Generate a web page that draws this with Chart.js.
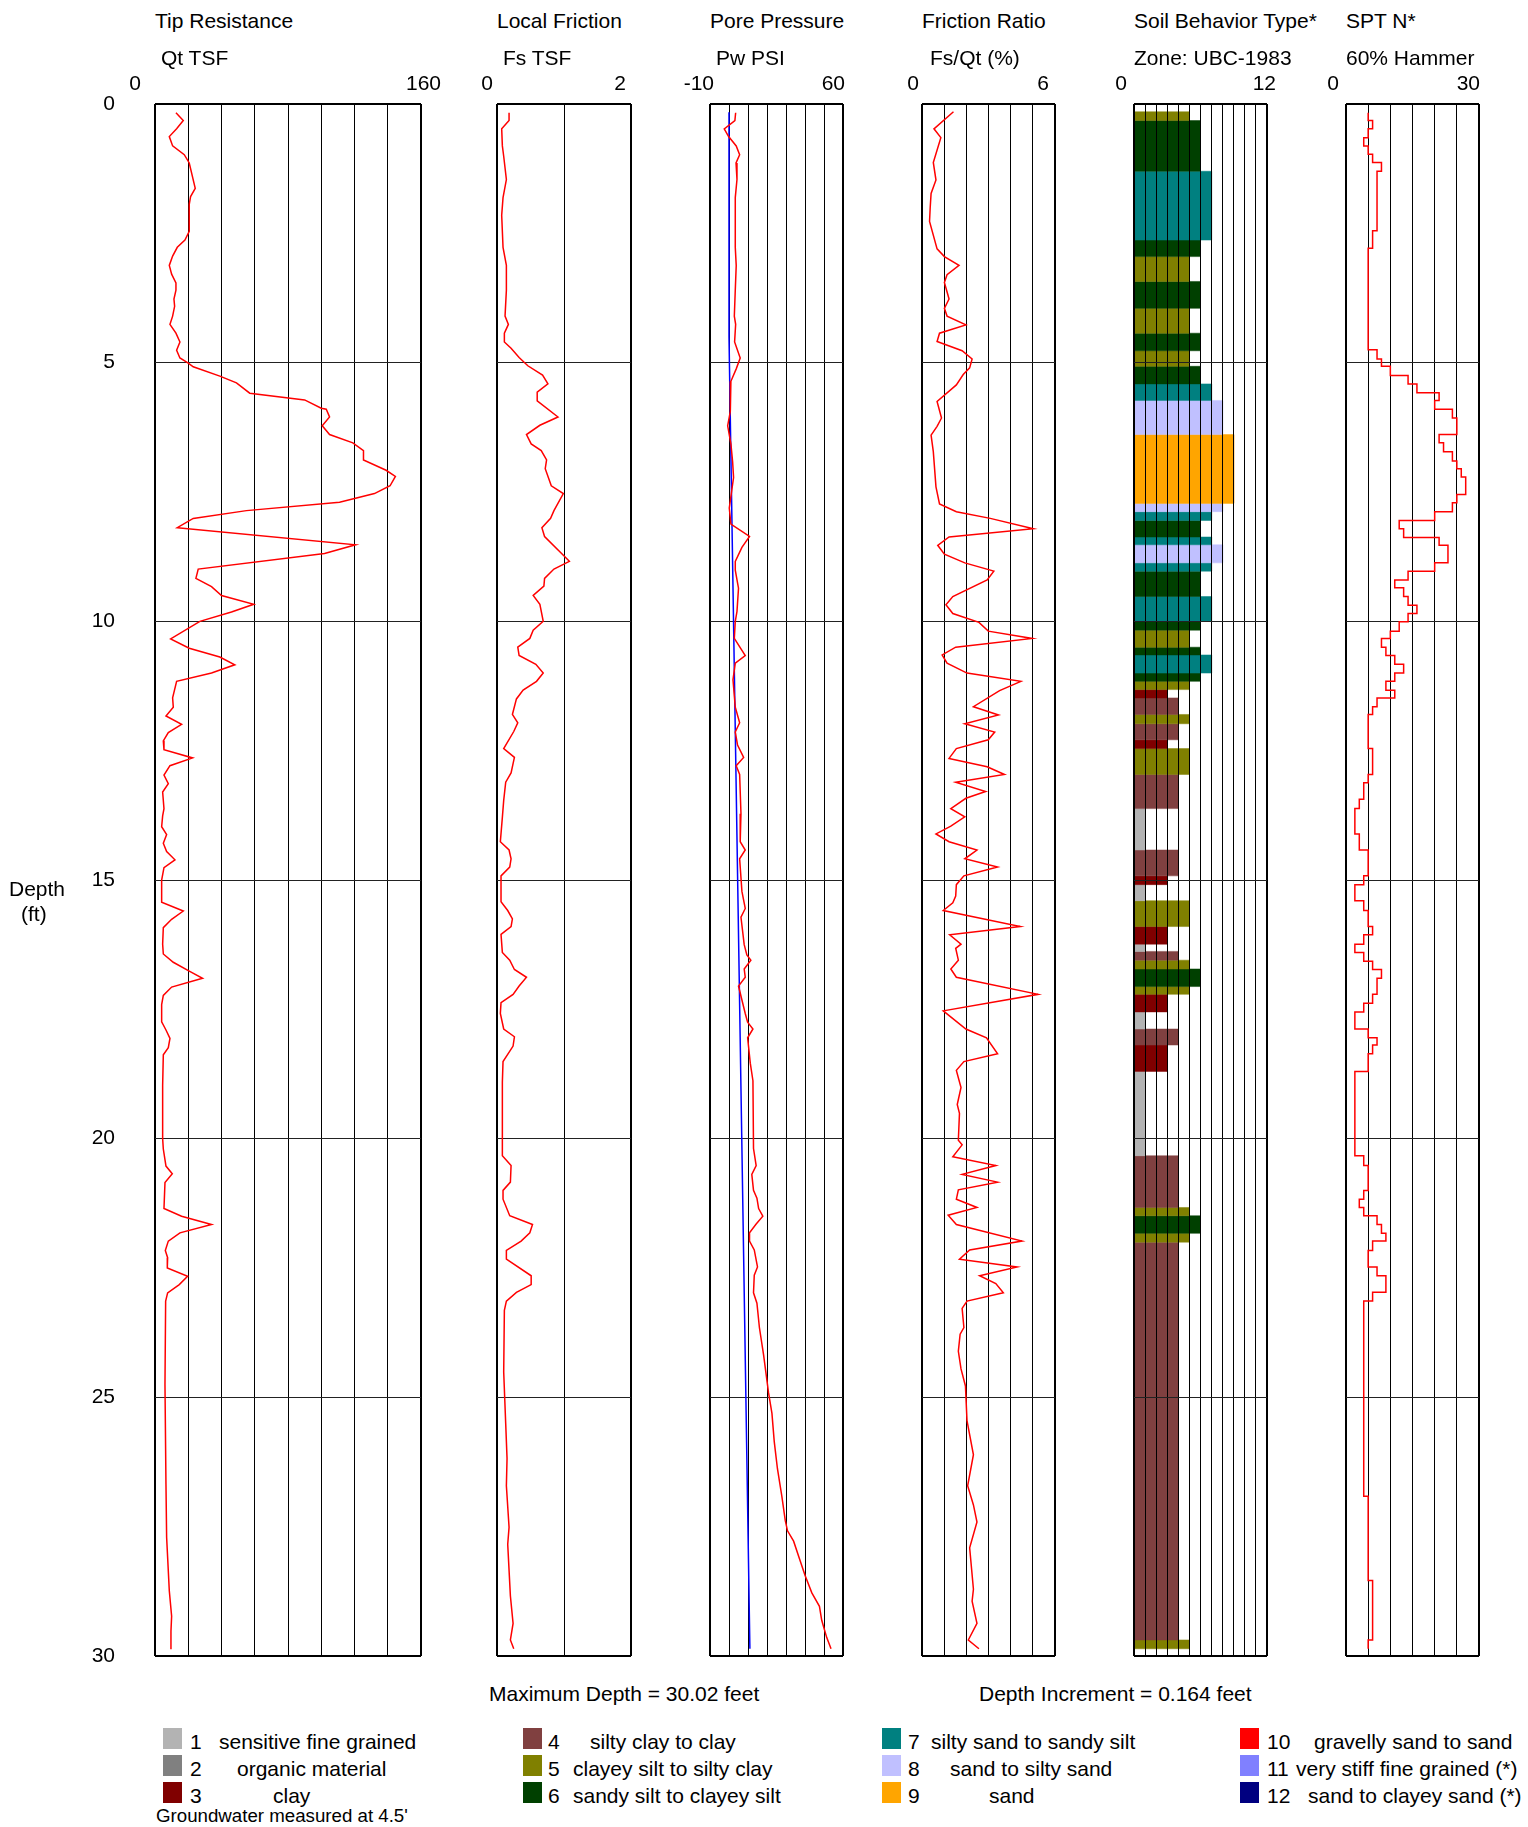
<!DOCTYPE html>
<html>
<head>
<meta charset="utf-8">
<script src="https://cdn.jsdelivr.net/npm/chart.js@4.4.1/dist/chart.umd.min.js"></script>
<style>
body { margin: 0; background: #fff; }
#page { position: relative; width: 1528px; height: 1827px; background: #fff; overflow: hidden;
        font-family: "Liberation Sans", Arial, sans-serif; color: #000; }
#page canvas { position: absolute; }
.txt { position: absolute; white-space: nowrap; z-index: 2; }
.swatch { position: absolute; width: 19px; height: 21px; }
</style>
</head>
<body>
<div id="page"></div>
<script>
// ---- panel headers / axis ranges ----
const panelTitles = ['Tip Resistance', 'Local Friction', 'Pore Pressure', 'Friction Ratio', 'Soil Behavior Type*', 'SPT N*'];
const panelUnits  = ['Qt TSF', 'Fs TSF', 'Pw PSI', 'Fs/Qt (%)', 'Zone: UBC-1983', '60% Hammer'];
const axisMin  = [0, 0, -10, 0, 0, 0];
const axisMax  = [160, 2, 60, 6, 12, 30];
const axisStep = [20, 1, 10, 1, 1, 5];
const depthMax = 30;
const depthStep = 5;

// ---- Tip resistance Qt (TSF) ----
const qtDepth = [0.17,0.32,0.48,0.63,0.81,0.98,1.14,1.63,1.79,1.94,2.46,2.63,2.77,2.94,3.12,3.29,3.46,3.6,3.77,3.91,
  4.1,4.26,4.43,4.6,4.76,4.91,5.01,5.08,5.26,5.39,5.59,5.72,5.88,5.9,6.05,6.22,6.39,6.55,6.7,6.88,
  7.08,7.2,7.38,7.53,7.7,7.86,8.01,8.19,8.52,8.69,8.99,9.17,9.33,9.5,9.67,9.82,10.0,10.34,10.52,10.69,
  10.84,11.0,11.16,11.48,11.66,11.83,11.99,12.15,12.31,12.48,12.64,12.79,12.97,13.14,13.3,13.62,13.76,13.97,14.12,14.29,
  14.45,14.61,14.76,15.0,15.43,15.6,15.76,15.92,16.24,16.43,16.59,16.76,16.9,17.07,17.23,17.41,17.74,17.9,18.06,18.24,
  18.38,18.97,20.0,20.2,20.53,20.68,20.85,21.35,21.5,21.66,21.82,21.98,22.16,22.3,22.5,22.66,22.82,22.98,23.14,24.75,
  26.68,27.71,28.74,29.23,29.52,29.87];
const qtValue = [12.6,17,13,8.6,10.6,17.6,20.6,24.2,21.4,20.6,20.6,18,13.4,10.6,8.6,10,12.6,12.6,11.4,11.8,
  10.6,9,12.6,15,13,15,20,23,39,49,57,90,100,103,105,100.6,105,119,125.4,125.4,
  139,144.6,141.4,132,111,55,23,13.4,120.6,102,26,24.6,34,40,59.4,46,27,9.4,20.6,39,
  48,34,13,10.6,11,6.6,16,8,5,5.4,22.6,9,5.4,8,4.6,5.4,4.6,4,7,5,
  7,12,5.4,4,4,17,10,5,4.6,5,11,20.6,28.6,10,5,4,4,6.6,9,8,
  5,4.6,4.6,5,6.6,10.4,6,5.4,16,34,15,8,6.2,7.6,7.4,19.6,14.6,7.6,6.4,6,
  6.6,7,8.6,10,9.6,9.6];

// ---- Local friction Fs (TSF) ----
const fsDepth = [0.17,0.32,0.48,0.81,1.01,1.46,1.81,2.15,2.77,3.12,3.6,4.1,4.26,4.43,4.6,4.72,4.9,5.06,5.24,5.41,
  5.57,5.74,6.05,6.21,6.39,6.57,6.7,6.88,7.05,7.38,7.53,7.86,8.01,8.19,8.36,8.84,8.99,9.17,9.32,9.5,
  9.67,10.0,10.17,10.33,10.5,10.66,10.83,11.0,11.16,11.33,11.5,11.8,11.96,12.13,12.46,12.63,12.93,13.11,13.46,13.79,
  14.26,14.42,14.59,14.75,14.92,15.42,15.59,15.75,15.9,16.05,16.4,16.55,16.73,16.88,17.05,17.21,17.37,17.58,17.88,18.03,
  18.21,18.51,18.91,20.33,20.52,20.84,21.0,21.17,21.49,21.66,21.82,21.98,22.16,22.33,22.65,22.82,22.97,23.14,23.32,24.51,
  25.51,26.18,26.71,27.51,27.84,28.84,29.37,29.69,29.86];
const fsValue = [0.18,0.18,0.07,0.08,0.1,0.14,0.09,0.07,0.09,0.14,0.14,0.12,0.17,0.11,0.11,0.21,0.33,0.46,0.68,0.76,
  0.6,0.6,0.91,0.64,0.44,0.51,0.66,0.74,0.72,0.81,0.99,0.85,0.8,0.67,0.71,1.08,0.85,0.71,0.7,0.54,
  0.64,0.69,0.54,0.49,0.31,0.33,0.58,0.69,0.59,0.39,0.29,0.23,0.31,0.25,0.1,0.26,0.21,0.13,0.1,0.08,
  0.05,0.18,0.21,0.19,0.06,0.06,0.16,0.23,0.21,0.06,0.08,0.19,0.26,0.44,0.33,0.24,0.06,0.05,0.1,0.26,
  0.24,0.09,0.08,0.08,0.21,0.2,0.09,0.09,0.19,0.53,0.49,0.36,0.14,0.14,0.51,0.51,0.29,0.14,0.11,0.1,
  0.13,0.15,0.14,0.18,0.16,0.2,0.24,0.2,0.25];

// ---- Pore pressure Pw (PSI) ----
const pwDepth = [0.17,0.32,0.48,0.63,0.81,0.98,1.14,1.46,1.81,2.77,3.12,3.6,4.1,4.26,4.6,4.91,5.12,5.36,5.94,6.22,
  6.57,6.91,7.22,7.81,8.12,8.36,8.57,8.84,9.01,9.36,9.81,10.0,10.33,10.66,10.81,11.13,11.66,11.96,12.14,12.39,
  12.63,12.79,12.96,13.72,14.26,14.42,14.59,15.22,15.55,15.72,16.25,16.45,16.55,16.72,16.88,17.05,17.58,17.75,17.88,18.05,
  18.54,18.88,20.19,20.52,20.69,21.0,21.15,21.35,21.5,21.65,21.82,21.98,22.15,22.48,22.64,22.98,23.18,23.65,24.18,24.91,
  25.31,25.85,26.38,26.91,27.38,27.58,27.78,28.11,28.44,28.78,29.04,29.31,29.64,29.86];
const pwValue = [3.5,3.1,-2.5,-0.2,3.8,5.6,3.7,4.2,3.3,3.3,3.8,3.3,2.8,3.5,2.95,5.9,3.8,1,0.7,-0.7,
  1,1.9,2.4,0.15,1,10.8,6.8,3.3,3.3,5,4.2,3.3,2.8,8.55,3.3,2.1,3.3,5.6,3.3,4.5,
  7.7,3.8,5.6,6.3,5.9,8.55,5.6,6.8,8.55,6.3,8,9.4,11.5,8,8.55,5,8.55,9.8,12.6,9.8,
  11.2,12.6,12.9,14.3,12,12.9,14.7,15.6,17.8,14.3,10.8,10.8,13.3,15,13.3,12.9,14.7,16,18.2,20.8,
  22.6,23.8,25.5,27.8,29.6,30.8,34,37,40,43.6,47.6,48.8,51.4,53.7];
// hydrostatic line (groundwater at 4.5 ft)
const hydroDepth = [0.16, 4.5, 29.86];
const hydroValue = [0, 0, 11.0];

// ---- Friction ratio Rf (%) ----
const rfDepth = [0.15,0.48,0.65,1.13,1.47,1.73,2.0,2.27,2.8,2.95,3.12,3.3,3.45,3.77,3.95,4.1,4.27,4.43,4.59,4.77,
  4.93,5.1,5.23,5.43,5.75,6.07,6.23,6.4,6.72,7.4,7.73,7.88,8.01,8.21,8.37,8.53,8.7,8.87,9.03,9.2,
  9.52,9.68,9.85,10.02,10.19,10.33,10.5,10.65,10.81,11.0,11.16,11.34,11.65,11.81,11.98,12.14,12.29,12.46,12.65,12.81,
  12.96,13.11,13.29,13.42,13.62,13.78,13.96,14.11,14.26,14.42,14.59,14.75,14.92,15.09,15.31,15.44,15.59,15.9,16.06,16.24,
  16.32,16.55,16.72,16.88,17.21,17.53,17.88,18.05,18.36,18.51,18.68,19.01,19.34,19.51,20.03,20.12,20.35,20.52,20.69,20.84,
  20.99,21.17,21.33,21.48,21.66,21.98,22.15,22.33,22.48,22.65,22.8,22.98,23.14,23.28,23.65,23.78,24.11,24.45,24.78,25.45,
  26.11,26.71,27.08,27.41,27.91,28.71,28.94,29.37,29.69,29.86];
const rfValue = [1.42,0.54,0.85,0.51,0.63,0.41,0.37,0.34,0.68,1.01,1.67,1.13,1.01,1.22,1.01,1.13,1.98,0.79,0.68,1.81,
  2.26,2.15,1.86,1.55,0.68,0.88,0.68,0.41,0.51,0.63,0.79,1.55,3.08,5.02,1.22,0.71,1.01,1.93,3.24,2.94,
  1.39,1.08,1.39,2.57,2.99,4.97,1.52,0.91,1.13,2.03,4.46,3.5,2.32,3.45,1.93,3.28,2.99,1.55,1.22,2.94,
  3.72,1.52,2.87,1.98,1.3,1.93,1.3,0.63,1.22,2.48,1.93,3.41,1.89,1.55,1.52,1.39,0.96,4.43,1.25,1.76,
  1.52,1.64,1.3,1.55,5.24,0.96,1.98,2.91,3.41,1.89,1.55,1.76,1.59,1.69,1.64,1.81,1.39,3.33,1.81,3.41,
  1.64,1.55,2.48,1.18,1.55,4.51,2.15,1.69,4.29,2.6,3.33,3.67,2.03,1.81,1.89,1.72,1.64,1.76,1.96,2.03,
  2.32,2.06,2.32,2.48,2.15,2.32,2.26,2.48,2.09,2.57];

// ---- Soil behaviour type layers (top of layer, zone); last layer ends at zoneEnd ----
const zoneTop = [0.15,0.32,1.3,2.63,2.95,3.43,3.95,4.43,4.77,5.07,5.41,5.73,6.39,7.72,7.88,8.05,8.37,8.52,8.87,9.03,
  9.52,10.0,10.17,10.5,10.65,11.0,11.16,11.32,11.48,11.8,11.98,12.29,12.46,12.96,13.62,14.42,14.92,15.09,15.4,15.9,
  16.24,16.38,16.55,16.72,17.06,17.21,17.55,17.88,18.19,18.7,20.33,21.33,21.49,21.83,22.0,29.69];
const zoneValue = [5,6,7,6,5,6,5,6,5,6,7,8,9,8,7,6,7,8,7,6,
  7,6,5,6,7,6,5,3,4,5,4,3,5,4,1,4,3,1,5,3,
  1,4,5,6,5,3,1,4,3,1,4,5,6,5,4,5];
const zoneEnd = 29.86;

// ---- SPT N* (stepped; value holds from each top to the next) ----
const sptTop = [0.17,0.32,0.48,0.65,0.81,0.97,1.13,1.3,2.45,2.79,4.75,4.93,5.07,5.25,5.41,5.58,5.73,5.9,6.07,6.39,
  6.55,6.72,6.9,7.05,7.21,7.55,7.71,7.88,8.05,8.21,8.38,8.53,8.87,9.03,9.2,9.35,9.52,9.69,9.85,10.01,
  10.19,10.33,10.5,10.66,10.83,11.0,11.16,11.33,11.48,11.65,11.8,12.46,12.96,13.12,13.44,13.62,14.11,14.42,14.92,15.09,
  15.4,15.59,15.9,16.06,16.24,16.4,16.57,16.73,16.9,17.21,17.38,17.55,17.88,18.05,18.19,18.36,18.7,20.33,20.52,21.0,
  21.17,21.33,21.49,21.66,21.83,21.98,22.16,22.48,22.65,22.97,23.14,26.91,28.54,29.69];
const sptValue = [5,6,5,4,5,6,8,7,6,5,7,8,10,14,16,21,20,24,25,21,
  22,24,25,26,27,25,24,20,12,13,21,23,20,14,11,13,14,16,14,12,
  10,8,9,11,13,11,9,11,7,6,5,6,5,4,3,2,3,5,4,2,
  4,5,6,4,2,4,6,8,7,6,4,2,5,7,6,5,2,4,5,4,
  3,4,7,8,9,6,5,7,9,6,4,5,6,5];
const sptEnd = 29.86;

// ---- legend ----
const zoneNames = ['sensitive fine grained', 'organic material', 'clay', 'silty clay to clay',
  'clayey silt to silty clay', 'sandy silt to clayey silt', 'silty sand to sandy silt', 'sand to silty sand',
  'sand', 'gravelly sand to sand', 'very stiff fine grained (*)', 'sand to clayey sand (*)'];
const zoneColors = ['#b3b3b3', '#808080', '#800000', '#804040', '#808000', '#004000',
  '#008080', '#c0c0ff', '#ffa500', '#ff0000', '#8080ff', '#000080'];

// ---- layout ----
const page = document.getElementById('page');
const FONT = '"Liberation Sans", Arial, sans-serif';
const TXT = 21;
const plotTop = 104, plotHeight = 1552;
const panelLeft  = [155, 497, 710, 922, 1134, 1346];
const panelWidth = [266, 134, 133, 133, 133, 133];
const unitLeft   = [161, 503, 716, 930, 1134, 1346];
const minLabelRight = [141, 493, 714, 919, 1127, 1339];
const maxLabelRight = [441, 626, 845, 1049, 1276, 1480];

function addText(str, x, yc, align, size) {
	const d = document.createElement('div');
	d.className = 'txt';
	d.textContent = str;
	const fs = size || TXT;
	d.style.fontSize = fs + 'px';
	d.style.lineHeight = (fs + 4) + 'px';
	d.style.top = (yc - (fs + 4) / 2) + 'px';
	if (align === 'right') {
		d.style.right = (1528 - x) + 'px';
	} else {
		d.style.left = x + 'px';
	}
	page.appendChild(d);
}

function trace(depths, values, color, extra) {
	return Object.assign({
		data: depths.map((d, i) => ({ x: values[i], y: d })),
		showLine: true,
		borderColor: color,
		borderWidth: 1.5,
		pointRadius: 0,
		fill: false
	}, extra || {});
}

function edgeTest(min, max) {
	return (c) => c.tick && (c.tick.value === min || c.tick.value === max);
}

function makePanel(p, datasets, withDepthLabels, gridOnTop) {
	// the depth labels add (label height / 2 + tick padding) above and below, so pad more there
	const pad = withDepthLabels ? 60 : 4;
	const canvas = document.createElement('canvas');
	const left = withDepthLabels ? 0 : panelLeft[p] - pad;
	const width = panelLeft[p] + panelWidth[p] + 4 - left;
	canvas.width = width;
	canvas.height = plotHeight + 2 * pad;
	canvas.style.left = left + 'px';
	canvas.style.top = (plotTop - pad) + 'px';
	canvas.style.width = width + 'px';
	canvas.style.height = (plotHeight + 2 * pad) + 'px';
	page.appendChild(canvas);

	const xEdge = edgeTest(axisMin[p], axisMax[p]);
	const yEdge = edgeTest(0, depthMax);
	const gz = gridOnTop ? 1 : -1;

	const yScale = {
		type: 'linear',
		reverse: true,
		min: 0,
		max: depthMax,
		border: { display: false },
		ticks: { display: false, stepSize: depthStep },
		grid: {
			z: gz,
			drawTicks: false,
			color: (c) => yEdge(c) ? '#000' : '#222',
			lineWidth: (c) => yEdge(c) ? 2 : 1
		}
	};
	if (withDepthLabels) {
		yScale.ticks = {
			display: true, stepSize: depthStep, padding: 40, color: '#000',
			font: { family: FONT, size: TXT }
		};
		yScale.afterFit = (scale) => { scale.width = panelLeft[p]; };
	}

	return new Chart(canvas, {
		type: 'scatter',
		data: { datasets: datasets },
		options: {
			responsive: false,
			animation: false,
			devicePixelRatio: 1,
			events: [],
			layout: { padding: { left: withDepthLabels ? 0 : pad, right: 4, top: pad, bottom: pad } },
			plugins: { legend: { display: false }, tooltip: { enabled: false } },
			scales: {
				x: {
					type: 'linear',
					min: axisMin[p],
					max: axisMax[p],
					border: { display: false },
					ticks: { display: false, stepSize: axisStep[p] },
					grid: {
						z: gz,
						drawTicks: false,
						color: '#000',
						lineWidth: (c) => xEdge(c) ? 2 : 1
					}
				},
				y: yScale
			}
		}
	});
}

// headers
for (let p = 0; p < 6; p++) {
	addText(panelTitles[p], panelLeft[p], 20);
	addText(panelUnits[p], unitLeft[p], 57);
	addText(String(axisMin[p]), minLabelRight[p], 82, 'right');
	addText(String(axisMax[p]), maxLabelRight[p], 82, 'right');
}
addText('Depth', 9, 888);
addText('(ft)', 21, 913);

// panels
makePanel(0, [trace(qtDepth, qtValue, '#ff0000')], true, false);
makePanel(1, [trace(fsDepth, fsValue, '#ff0000')], false, false);
makePanel(2, [trace(pwDepth, pwValue, '#ff0000'), trace(hydroDepth, hydroValue, '#0000ff')], false, false);
makePanel(3, [trace(rfDepth, rfValue, '#ff0000')], false, false);

const zoneSets = zoneTop.map((top, i) => {
	const bottom = i + 1 < zoneTop.length ? zoneTop[i + 1] : zoneEnd;
	const z = zoneValue[i];
	const col = zoneColors[z - 1];
	return {
		data: [{ x: 0, y: top }, { x: z, y: top }, { x: z, y: bottom }, { x: 0, y: bottom }],
		showLine: true,
		fill: 'shape',
		backgroundColor: col,
		borderColor: col,
		borderWidth: 0.5,
		pointRadius: 0
	};
});
makePanel(4, zoneSets, false, true);

makePanel(5, [trace(sptTop.concat([sptEnd]), sptValue.concat([sptValue[sptValue.length - 1]]), '#ff0000',
	{ stepped: 'after' })], false, false);

// footer
addText('Maximum Depth = 30.02 feet', 489, 1693);
addText('Depth Increment = 0.164 feet', 979, 1693);

const swatchLeft = [163, 523, 882, 1240];
const numLeft = [190, 548, 908, 1267];
const nameLeft = [219, 237, 273, 590, 573, 573, 931, 950, 989, 1314, 1296, 1308];
const rowCenter = [1741, 1768, 1795];
zoneNames.forEach((name, i) => {
	const col = Math.floor(i / 3), row = i % 3;
	const sw = document.createElement('div');
	sw.className = 'swatch';
	sw.style.left = swatchLeft[col] + 'px';
	sw.style.top = (rowCenter[row] - 13) + 'px';
	sw.style.background = zoneColors[i];
	page.appendChild(sw);
	addText(String(i + 1), numLeft[col], rowCenter[row]);
	addText(name, nameLeft[i], rowCenter[row]);
});
addText("Groundwater measured at 4.5'", 156, 1816, 'left', 18.7);
</script>
</body>
</html>
